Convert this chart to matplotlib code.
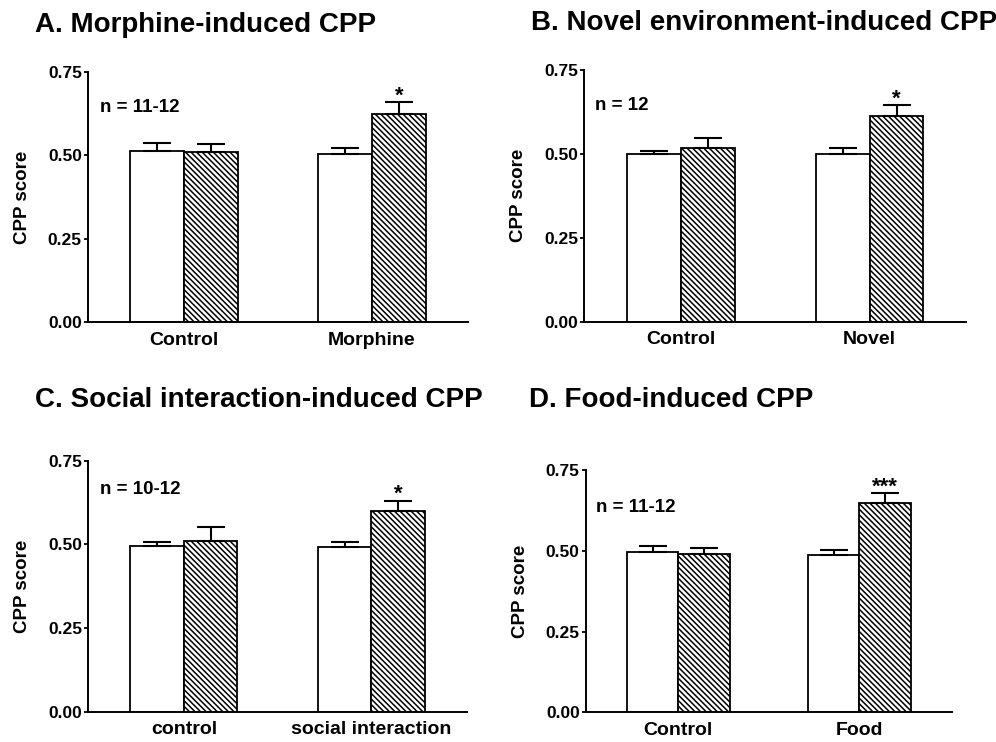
import matplotlib
matplotlib.use("Agg")
import matplotlib.pyplot as plt
import numpy as np

plt.rcParams['font.family'] = ['Liberation Sans', 'DejaVu Sans']
plt.rcParams['font.weight'] = 'bold'
plt.rcParams['hatch.linewidth'] = 1.1

# ---- data ----
titles = ["A. Morphine-induced CPP", "B. Novel environment-induced CPP",
          "C. Social interaction-induced CPP", "D. Food-induced CPP"]
group_labels = [["Control", "Morphine"], ["Control", "Novel"],
                ["control", "social interaction"], ["Control", "Food"]]
n_labels = ["n = 11-12", "n = 12", "n = 10-12", "n = 11-12"]

open_A = [0.514, 0.503]; open_err_A = [0.024, 0.020]
hatch_A = [0.509, 0.623]; hatch_err_A = [0.024, 0.036]
open_B = [0.499, 0.500]; open_err_B = [0.011, 0.018]
hatch_B = [0.517, 0.613]; hatch_err_B = [0.031, 0.032]
open_C = [0.494, 0.491]; open_err_C = [0.012, 0.015]
hatch_C = [0.511, 0.600]; hatch_err_C = [0.040, 0.031]
open_D = [0.497, 0.487]; open_err_D = [0.019, 0.015]
hatch_D = [0.491, 0.647]; hatch_err_D = [0.018, 0.031]

stars = [["", "*"], ["", "*"], ["", "*"], ["", "***"]]
yticks = [0.00, 0.25, 0.50, 0.75]
ytick_labels = ["0.00", "0.25", "0.50", "0.75"]

panels = [
    (open_A, open_err_A, hatch_A, hatch_err_A),
    (open_B, open_err_B, hatch_B, hatch_err_B),
    (open_C, open_err_C, hatch_C, hatch_err_C),
    (open_D, open_err_D, hatch_D, hatch_err_D),
]

# ---- layout (pixels) ----
W, H = 996, 742
fig = plt.figure(figsize=(W / 100, H / 100), dpi=100)

# left, right, top, bottom in pixels
boxes = [(88, 468, 71.7, 322.3), (584.3, 966, 70, 321.7),
         (88.3, 467, 460.7, 711.7), (586, 951.7, 470, 712.3)]
title_pos = [(35, 25), (531, 23), (35, 400), (529, 400)]
n_pos = [(100, 108), (595, 106), (100, 490), (596, 507)]

bw = 0.285
for i, (ov, oe, hv, he) in enumerate(panels):
    l, r, t, b = boxes[i]
    ax = fig.add_axes([l / W, 1 - b / H, (r - l) / W, (b - t) / H])
    x = np.arange(2)
    ax.bar(x - bw / 2, ov, width=bw, color='white', edgecolor='black', linewidth=1.3, zorder=2)
    ax.bar(x + bw / 2, hv, width=bw, color='white', edgecolor='black', linewidth=1.3,
           hatch='\\\\\\\\\\\\', zorder=2)
    ax.errorbar(x - bw / 2, ov, yerr=[np.zeros(2), oe], fmt='none', ecolor='black',
                elinewidth=1.5, capsize=10, capthick=1.5, zorder=3)
    ax.errorbar(x + bw / 2, hv, yerr=[np.zeros(2), he], fmt='none', ecolor='black',
                elinewidth=1.5, capsize=10, capthick=1.5, zorder=3)
    for j in range(2):
        if stars[i][j]:
            ax.annotate(stars[i][j], (x[j] + bw / 2, hv[j] + he[j]), xytext=(0, 0.5),
                        textcoords='offset points', ha='center', va='baseline',
                        fontsize=16, fontweight='bold')
    ax.set_xlim(-0.51, 1.51)
    ax.set_ylim(0, 0.75)
    ax.set_yticks(yticks)
    ax.set_yticklabels(ytick_labels)
    ax.set_xticks(x)
    ax.set_xticklabels(group_labels[i])
    ax.tick_params(axis='x', length=0, pad=7, labelsize=14)
    ax.tick_params(axis='y', length=3, width=1.3, pad=1.5, labelsize=12.5)
    for lab in ax.get_xticklabels() + ax.get_yticklabels():
        lab.set_fontweight('bold')
    ax.spines['top'].set_visible(False)
    ax.spines['right'].set_visible(False)
    ax.spines['left'].set_linewidth(1.4)
    ax.spines['bottom'].set_linewidth(1.4)
    ax.set_ylabel("CPP score", fontsize=13.5, fontweight='bold')
    ax.yaxis.set_label_coords(-57 / (r - l), 0.5)
    nx, ny = n_pos[i]
    ax.text((nx - l) / (r - l), (b - ny) / (b - t), n_labels[i], transform=ax.transAxes,
            ha='left', va='center', fontsize=13.5, fontweight='bold')
    tx, ty = title_pos[i]
    fig.text(tx / W, 1 - ty / H, titles[i], ha='left', va='center',
             fontsize=20, fontweight='bold')

fig.savefig("out.png", dpi=100, facecolor='white')
